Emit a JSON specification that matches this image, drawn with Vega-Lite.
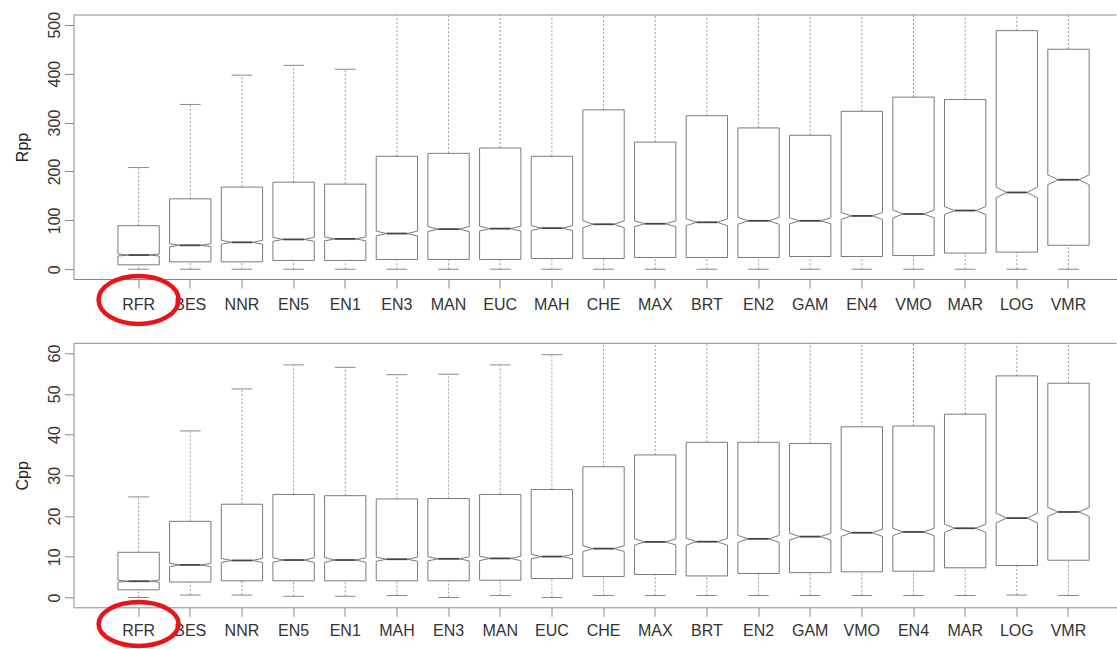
{
"$schema": "https://vega.github.io/schema/vega-lite/v6.json",
"background": "white",
"padding": {"left": 14.5, "top": 11, "right": 0, "bottom": 0},
"bounds": "flush",
"spacing": 64.3,
"config": {"view": {"stroke": null}, "font": "Liberation Sans",
  "axis": {"domainColor": "#8a8a8a", "tickColor": "#8a8a8a", "labelColor": "#333", "titleColor": "#222", "labelFontSize": 16, "titleFontSize": 16, "titleFontWeight": "normal", "tickSize": 9, "grid": false, "labelFont": "Liberation Sans", "titleFont": "Liberation Sans"}},
"datasets": {
"rpp": [
{"m":"RFR","lo":0,"q1":9,"nlo":27,"med":29,"nhi":31,"q3":89,"hi":208},
{"m":"BES","lo":0,"q1":15,"nlo":46,"med":49,"nhi":52,"q3":144,"hi":337},
{"m":"NNR","lo":0,"q1":15,"nlo":51,"med":55,"nhi":59,"q3":168,"hi":397},
{"m":"EN5","lo":0,"q1":18,"nlo":57,"med":61,"nhi":65,"q3":178,"hi":417},
{"m":"EN1","lo":0,"q1":18,"nlo":58,"med":62,"nhi":66,"q3":174,"hi":409},
{"m":"EN3","lo":0,"q1":20,"nlo":68,"med":73,"nhi":78,"q3":231,"hi":560},
{"m":"MAN","lo":0,"q1":20,"nlo":77,"med":82,"nhi":87,"q3":237,"hi":560},
{"m":"EUC","lo":0,"q1":20,"nlo":78,"med":83,"nhi":88,"q3":248,"hi":580},
{"m":"MAH","lo":0,"q1":22,"nlo":79,"med":84,"nhi":89,"q3":231,"hi":560},
{"m":"CHE","lo":0,"q1":22,"nlo":85,"med":92,"nhi":99,"q3":326,"hi":780},
{"m":"MAX","lo":0,"q1":24,"nlo":87,"med":93,"nhi":99,"q3":260,"hi":620},
{"m":"BRT","lo":0,"q1":24,"nlo":89,"med":96,"nhi":103,"q3":314,"hi":750},
{"m":"EN2","lo":0,"q1":24,"nlo":92,"med":99,"nhi":106,"q3":289,"hi":690},
{"m":"GAM","lo":0,"q1":26,"nlo":93,"med":99,"nhi":105,"q3":274,"hi":650},
{"m":"EN4","lo":0,"q1":26,"nlo":102,"med":109,"nhi":116,"q3":323,"hi":770},
{"m":"VMO","lo":0,"q1":28,"nlo":105,"med":113,"nhi":121,"q3":352,"hi":840},
{"m":"MAR","lo":0,"q1":33,"nlo":112,"med":120,"nhi":128,"q3":347,"hi":820},
{"m":"LOG","lo":0,"q1":35,"nlo":146,"med":157,"nhi":168,"q3":488,"hi":1150},
{"m":"VMR","lo":0,"q1":49,"nlo":173,"med":183,"nhi":193,"q3":450,"hi":1050}
],
"cpp": [
{"m":"RFR","lo":0,"q1":1.9,"nlo":3.75,"med":4.0,"nhi":4.25,"q3":11.1,"hi":24.7},
{"m":"BES","lo":0.6,"q1":3.8,"nlo":7.6,"med":8.0,"nhi":8.4,"q3":18.7,"hi":40.9},
{"m":"NNR","lo":0.6,"q1":4.1,"nlo":8.6,"med":9.1,"nhi":9.6,"q3":22.9,"hi":51.2},
{"m":"EN5","lo":0.3,"q1":4.1,"nlo":8.65,"med":9.2,"nhi":9.75,"q3":25.3,"hi":57.1},
{"m":"EN1","lo":0.3,"q1":4.1,"nlo":8.65,"med":9.2,"nhi":9.75,"q3":25.0,"hi":56.5},
{"m":"MAH","lo":0.5,"q1":4.1,"nlo":8.9,"med":9.4,"nhi":9.9,"q3":24.2,"hi":54.7},
{"m":"EN3","lo":0,"q1":4.1,"nlo":9.0,"med":9.5,"nhi":10.0,"q3":24.3,"hi":54.8},
{"m":"MAN","lo":0.5,"q1":4.25,"nlo":9.05,"med":9.6,"nhi":10.15,"q3":25.3,"hi":57.1},
{"m":"EUC","lo":0,"q1":4.65,"nlo":9.5,"med":10.05,"nhi":10.6,"q3":26.5,"hi":59.6},
{"m":"CHE","lo":0.5,"q1":5.15,"nlo":11.3,"med":12.0,"nhi":12.7,"q3":32.1,"hi":72},
{"m":"MAX","lo":0.5,"q1":5.65,"nlo":12.9,"med":13.65,"nhi":14.4,"q3":35.0,"hi":79},
{"m":"BRT","lo":0.5,"q1":5.3,"nlo":12.85,"med":13.7,"nhi":14.55,"q3":38.1,"hi":87},
{"m":"EN2","lo":0.5,"q1":5.9,"nlo":13.55,"med":14.4,"nhi":15.25,"q3":38.1,"hi":86},
{"m":"GAM","lo":0.5,"q1":6.1,"nlo":14.1,"med":14.95,"nhi":15.8,"q3":37.8,"hi":85},
{"m":"VMO","lo":0.5,"q1":6.3,"nlo":15.0,"med":15.9,"nhi":16.8,"q3":41.9,"hi":95},
{"m":"EN4","lo":0.5,"q1":6.45,"nlo":15.2,"med":16.1,"nhi":17.0,"q3":42.1,"hi":95},
{"m":"MAR","lo":0.5,"q1":7.3,"nlo":16.0,"med":17.0,"nhi":18.0,"q3":45.0,"hi":102},
{"m":"LOG","lo":0.6,"q1":7.85,"nlo":18.3,"med":19.5,"nhi":20.7,"q3":54.4,"hi":124},
{"m":"VMR","lo":0.5,"q1":9.15,"nlo":19.9,"med":21.0,"nhi":22.1,"q3":52.6,"hi":118}
]
},
"vconcat": [
{
"width": 1043, "height": 264,
"data": {"name": "rpp"},
"layer": [
{"mark": {"type": "rule", "clip": true, "color": "#9a9a9a", "strokeDash": [2, 2]},
 "encoding": {
  "x": {"field": "m", "type": "nominal", "sort": null, "bandPosition": 0.5, "scale": {"paddingInner": 0.2, "paddingOuter": 0.695, "align": 0.619}, "axis": {"title": null, "labelAngle": 0, "labelPadding": 8}},
  "y": {"field": "q3", "type": "quantitative", "scale": {"domain": [-20, 520], "nice": false, "zero": false}, "axis": {"title": "Rpp", "values": [0, 100, 200, 300, 400, 500], "labelAngle": -90, "labelAlign": "center", "labelBaseline": "bottom", "labelPadding": 2, "titleX": -51, "titleY": 132, "titleAngle": -90, "titleAlign": "center", "titleBaseline": "middle"}},
  "y2": {"field": "hi"}}},
{"data": {"values": [{}]}, "mark": {"type": "rule", "color": "#8a8a8a"}, "encoding": {"y": {"datum": 520}}},
{"mark": {"type": "rule", "color": "#9a9a9a", "strokeDash": [2, 2]},
 "encoding": {"x": {"field": "m", "type": "nominal", "sort": null, "bandPosition": 0.5}, "y": {"field": "lo", "type": "quantitative"}, "y2": {"field": "q1"}}},
{"mark": {"type": "rule", "clip": true, "color": "#8a8a8a"},
 "encoding": {"x": {"field": "m", "type": "nominal", "sort": null, "bandPosition": 0.25}, "x2": {"field": "m", "bandPosition": 0.75}, "y": {"field": "hi", "type": "quantitative"}}},
{"mark": {"type": "rule", "color": "#8a8a8a"},
 "encoding": {"x": {"field": "m", "type": "nominal", "sort": null, "bandPosition": 0.25}, "x2": {"field": "m", "bandPosition": 0.75}, "y": {"field": "lo", "type": "quantitative"}}},
{"mark": {"type": "rule", "color": "#7a7a7a"},
 "encoding": {"x": {"field": "m", "type": "nominal", "sort": null, "bandPosition": 0}, "x2": {"field": "m", "bandPosition": 1}, "y": {"field": "q3", "type": "quantitative"}}},
{"mark": {"type": "rule", "color": "#7a7a7a"},
 "encoding": {"x": {"field": "m", "type": "nominal", "sort": null, "bandPosition": 0}, "x2": {"field": "m", "bandPosition": 1}, "y": {"field": "q1", "type": "quantitative"}}},
{"mark": {"type": "rule", "color": "#7a7a7a"},
 "encoding": {"x": {"field": "m", "type": "nominal", "sort": null, "bandPosition": 0}, "y": {"field": "q3", "type": "quantitative"}, "y2": {"field": "nhi"}}},
{"mark": {"type": "rule", "color": "#7a7a7a"},
 "encoding": {"x": {"field": "m", "type": "nominal", "sort": null, "bandPosition": 1}, "y": {"field": "q3", "type": "quantitative"}, "y2": {"field": "nhi"}}},
{"mark": {"type": "rule", "color": "#7a7a7a"},
 "encoding": {"x": {"field": "m", "type": "nominal", "sort": null, "bandPosition": 0}, "y": {"field": "nlo", "type": "quantitative"}, "y2": {"field": "q1"}}},
{"mark": {"type": "rule", "color": "#7a7a7a"},
 "encoding": {"x": {"field": "m", "type": "nominal", "sort": null, "bandPosition": 1}, "y": {"field": "nlo", "type": "quantitative"}, "y2": {"field": "q1"}}},
{"mark": {"type": "rule", "color": "#7a7a7a"},
 "encoding": {"x": {"field": "m", "type": "nominal", "sort": null, "bandPosition": 0}, "x2": {"field": "m", "bandPosition": 0.25}, "y": {"field": "nhi", "type": "quantitative"}, "y2": {"field": "med"}}},
{"mark": {"type": "rule", "color": "#7a7a7a"},
 "encoding": {"x": {"field": "m", "type": "nominal", "sort": null, "bandPosition": 0}, "x2": {"field": "m", "bandPosition": 0.25}, "y": {"field": "nlo", "type": "quantitative"}, "y2": {"field": "med"}}},
{"mark": {"type": "rule", "color": "#7a7a7a"},
 "encoding": {"x": {"field": "m", "type": "nominal", "sort": null, "bandPosition": 1}, "x2": {"field": "m", "bandPosition": 0.75}, "y": {"field": "nhi", "type": "quantitative"}, "y2": {"field": "med"}}},
{"mark": {"type": "rule", "color": "#7a7a7a"},
 "encoding": {"x": {"field": "m", "type": "nominal", "sort": null, "bandPosition": 1}, "x2": {"field": "m", "bandPosition": 0.75}, "y": {"field": "nlo", "type": "quantitative"}, "y2": {"field": "med"}}},
{"mark": {"type": "rule", "color": "#444", "strokeWidth": 1.8},
 "encoding": {"x": {"field": "m", "type": "nominal", "sort": null, "bandPosition": 0.25}, "x2": {"field": "m", "bandPosition": 0.75}, "y": {"field": "med", "type": "quantitative"}}},
{"data": {"values": [{"m": "RFR", "y": -62.7}]},
 "mark": {"type": "point", "shape": "M1,0C1,0.3314,0.5523,0.6,0,0.6C-0.5523,0.6,-1,0.3314,-1,0C-1,-0.3314,-0.5523,-0.6,0,-0.6C0.5523,-0.6,1,-0.3314,1,0Z", "size": 6400, "filled": false, "stroke": "#e8141c", "strokeWidth": 4.5, "opacity": 1},
 "encoding": {"x": {"field": "m", "type": "nominal", "sort": null}, "y": {"field": "y", "type": "quantitative"}}}
]
},
{
"width": 1043, "height": 264,
"data": {"name": "cpp"},
"layer": [
{"mark": {"type": "rule", "clip": true, "color": "#9a9a9a", "strokeDash": [2, 2]},
 "encoding": {
  "x": {"field": "m", "type": "nominal", "sort": null, "bandPosition": 0.5, "scale": {"paddingInner": 0.2, "paddingOuter": 0.695, "align": 0.619}, "axis": {"title": null, "labelAngle": 0, "labelPadding": 6}},
  "y": {"field": "q3", "type": "quantitative", "scale": {"domain": [-2.4, 62.4], "nice": false, "zero": false}, "axis": {"title": "Cpp", "values": [0, 10, 20, 30, 40, 50, 60], "labelAngle": -90, "labelAlign": "center", "labelBaseline": "bottom", "labelPadding": 2, "titleX": -51, "titleY": 132, "titleAngle": -90, "titleAlign": "center", "titleBaseline": "middle"}},
  "y2": {"field": "hi"}}},
{"data": {"values": [{}]}, "mark": {"type": "rule", "color": "#8a8a8a"}, "encoding": {"y": {"datum": 62.4}}},
{"mark": {"type": "rule", "color": "#9a9a9a", "strokeDash": [2, 2]},
 "encoding": {"x": {"field": "m", "type": "nominal", "sort": null, "bandPosition": 0.5}, "y": {"field": "lo", "type": "quantitative"}, "y2": {"field": "q1"}}},
{"mark": {"type": "rule", "clip": true, "color": "#8a8a8a"},
 "encoding": {"x": {"field": "m", "type": "nominal", "sort": null, "bandPosition": 0.25}, "x2": {"field": "m", "bandPosition": 0.75}, "y": {"field": "hi", "type": "quantitative"}}},
{"mark": {"type": "rule", "color": "#8a8a8a"},
 "encoding": {"x": {"field": "m", "type": "nominal", "sort": null, "bandPosition": 0.25}, "x2": {"field": "m", "bandPosition": 0.75}, "y": {"field": "lo", "type": "quantitative"}}},
{"mark": {"type": "rule", "color": "#7a7a7a"},
 "encoding": {"x": {"field": "m", "type": "nominal", "sort": null, "bandPosition": 0}, "x2": {"field": "m", "bandPosition": 1}, "y": {"field": "q3", "type": "quantitative"}}},
{"mark": {"type": "rule", "color": "#7a7a7a"},
 "encoding": {"x": {"field": "m", "type": "nominal", "sort": null, "bandPosition": 0}, "x2": {"field": "m", "bandPosition": 1}, "y": {"field": "q1", "type": "quantitative"}}},
{"mark": {"type": "rule", "color": "#7a7a7a"},
 "encoding": {"x": {"field": "m", "type": "nominal", "sort": null, "bandPosition": 0}, "y": {"field": "q3", "type": "quantitative"}, "y2": {"field": "nhi"}}},
{"mark": {"type": "rule", "color": "#7a7a7a"},
 "encoding": {"x": {"field": "m", "type": "nominal", "sort": null, "bandPosition": 1}, "y": {"field": "q3", "type": "quantitative"}, "y2": {"field": "nhi"}}},
{"mark": {"type": "rule", "color": "#7a7a7a"},
 "encoding": {"x": {"field": "m", "type": "nominal", "sort": null, "bandPosition": 0}, "y": {"field": "nlo", "type": "quantitative"}, "y2": {"field": "q1"}}},
{"mark": {"type": "rule", "color": "#7a7a7a"},
 "encoding": {"x": {"field": "m", "type": "nominal", "sort": null, "bandPosition": 1}, "y": {"field": "nlo", "type": "quantitative"}, "y2": {"field": "q1"}}},
{"mark": {"type": "rule", "color": "#7a7a7a"},
 "encoding": {"x": {"field": "m", "type": "nominal", "sort": null, "bandPosition": 0}, "x2": {"field": "m", "bandPosition": 0.25}, "y": {"field": "nhi", "type": "quantitative"}, "y2": {"field": "med"}}},
{"mark": {"type": "rule", "color": "#7a7a7a"},
 "encoding": {"x": {"field": "m", "type": "nominal", "sort": null, "bandPosition": 0}, "x2": {"field": "m", "bandPosition": 0.25}, "y": {"field": "nlo", "type": "quantitative"}, "y2": {"field": "med"}}},
{"mark": {"type": "rule", "color": "#7a7a7a"},
 "encoding": {"x": {"field": "m", "type": "nominal", "sort": null, "bandPosition": 1}, "x2": {"field": "m", "bandPosition": 0.75}, "y": {"field": "nhi", "type": "quantitative"}, "y2": {"field": "med"}}},
{"mark": {"type": "rule", "color": "#7a7a7a"},
 "encoding": {"x": {"field": "m", "type": "nominal", "sort": null, "bandPosition": 1}, "x2": {"field": "m", "bandPosition": 0.75}, "y": {"field": "nlo", "type": "quantitative"}, "y2": {"field": "med"}}},
{"mark": {"type": "rule", "color": "#444", "strokeWidth": 1.8},
 "encoding": {"x": {"field": "m", "type": "nominal", "sort": null, "bandPosition": 0.25}, "x2": {"field": "m", "bandPosition": 0.75}, "y": {"field": "med", "type": "quantitative"}}},
{"data": {"values": [{"m": "RFR", "y": -6.5}]},
 "mark": {"type": "point", "shape": "M1,0C1,0.3038,0.5523,0.55,0,0.55C-0.5523,0.55,-1,0.3038,-1,0C-1,-0.3038,-0.5523,-0.55,0,-0.55C0.5523,-0.55,1,-0.3038,1,0Z", "size": 6400, "filled": false, "stroke": "#e8141c", "strokeWidth": 4.5, "opacity": 1},
 "encoding": {"x": {"field": "m", "type": "nominal", "sort": null}, "y": {"field": "y", "type": "quantitative"}}}
]
}
]
}
